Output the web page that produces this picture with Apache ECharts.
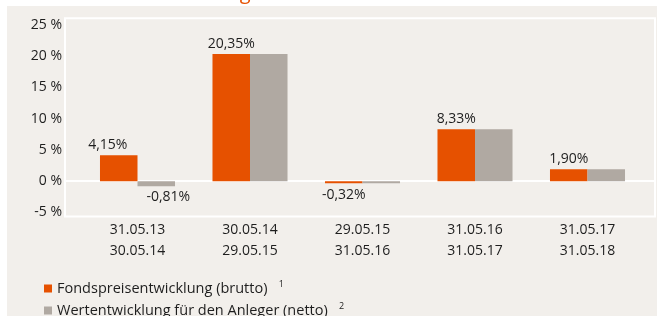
<!DOCTYPE html>
<html>
<head>
<meta charset="utf-8">
<script src="https://cdn.jsdelivr.net/npm/echarts@6/dist/echarts.min.js"></script>
<style>
  html, body { margin: 0; padding: 0; background: #fff; }
  #chart { width: 665px; height: 316px; }
</style>
</head>
<body>
<div id="chart"></div>
<script>
const periods = ["31.05.13\n30.05.14", "30.05.14\n29.05.15", "29.05.15\n31.05.16", "31.05.16\n31.05.17", "31.05.17\n31.05.18"];
const brutto = [4.15, 20.35, -0.32, 8.33, 1.90];
const netto = [-0.81, 20.35, -0.32, 8.33, 1.90];
const seriesNames = ["Fondspreisentwicklung (brutto)", "Wertentwicklung für den Anleger (netto)"];
const footnotes = ["1", "2"];
const yTicks = [-5, 0, 5, 10, 15, 20, 25];

const ORANGE = "#e65100";
const GREY = "#b0a9a2";
const INK = "#1e1e1e";
const FONT = "Open Sans";

const Y_MIN = -5.66;
const Y_MAX = 26.08;

const pct = (v) => v.toFixed(2).replace(".", ",") + "%";

const chart = echarts.init(document.getElementById("chart"), null, { renderer: "canvas" });

const option = {
  backgroundColor: "#fff",
  animation: false,
  textStyle: { fontFamily: FONT },
  title: {
    text: "Wertentwicklung",
    left: 89,
    top: -22,
    textStyle: { color: ORANGE, fontSize: 20, fontWeight: "normal", fontFamily: FONT },
  },
  graphic: [
    {
      type: "rect",
      left: 7,
      top: 6,
      z: -10,
      silent: true,
      shape: { width: 650, height: 310 },
      style: { fill: "#f2efeb" },
    },
  ],
  grid: [
    // frame with white border and zero line
    { left: 65, right: 10, top: 18.3, bottom: 99.5, show: true, borderColor: "#fff", borderWidth: 2, backgroundColor: "transparent" },
    // bars
    { left: 81.25, right: 21.25, top: 18.3, bottom: 99.5 },
  ],
  legend: {
    orient: "vertical",
    left: 39,
    top: 275,
    height: 80,
    itemWidth: 8,
    itemHeight: 8,
    itemGap: 6,
    icon: "rect",
    data: seriesNames,
    formatter: (name) => `${name}   {sup|${footnotes[seriesNames.indexOf(name)]}}`,
    textStyle: {
      color: INK,
      fontSize: 14.5,
      fontFamily: FONT,
      rich: { sup: { fontSize: 9, color: INK, padding: [0, 0, 8, 0] } },
    },
  },
  xAxis: [
    {
      gridIndex: 0,
      type: "value",
      min: 0,
      max: 1,
      axisLine: { show: true, onZero: true, lineStyle: { color: "#fff", width: 2 } },
      axisTick: { show: false },
      axisLabel: { show: false },
      splitLine: { show: false },
    },
    {
      gridIndex: 1,
      type: "category",
      data: periods,
      axisLine: { show: false },
      axisTick: { show: false },
      axisLabel: { color: INK, fontSize: 14, lineHeight: 21, margin: 3, fontFamily: FONT },
      splitLine: { show: false },
    },
  ],
  yAxis: [
    {
      gridIndex: 0,
      type: "value",
      min: Y_MIN,
      max: Y_MAX,
      axisLine: { show: false },
      axisTick: { show: false },
      splitLine: { show: false },
      axisLabel: {
        customValues: yTicks,
        color: INK,
        fontSize: 14,
        margin: 3,
        fontFamily: FONT,
        formatter: (v) => `${v} %`,
      },
    },
    {
      gridIndex: 1,
      type: "value",
      min: Y_MIN,
      max: Y_MAX,
      show: false,
      splitLine: { show: false },
    },
  ],
  series: [
    {
      name: seriesNames[0],
      type: "bar",
      xAxisIndex: 1,
      yAxisIndex: 1,
      barGap: "0%",
      barCategoryGap: "33.3%",
      itemStyle: { color: ORANGE },
      label: {
        show: true,
        position: "top",
        distance: 3,
        color: INK,
        fontSize: 14,
        fontFamily: FONT,
        formatter: (p) => pct(p.value),
      },
      data: brutto.map((v, i) => {
        if (i === 0) return { value: v, label: { offset: [-11, 0] } };
        if (v < 0) return { value: v, label: { position: "bottom", distance: 5 } };
        return v;
      }),
    },
    {
      name: seriesNames[1],
      type: "bar",
      xAxisIndex: 1,
      yAxisIndex: 1,
      barGap: "0%",
      barCategoryGap: "33.3%",
      itemStyle: { color: GREY },
      label: {
        show: false,
        color: INK,
        fontSize: 14,
        fontFamily: FONT,
        formatter: (p) => pct(p.value),
      },
      data: netto.map((v, i) =>
        i === 0 ? { value: v, label: { show: true, position: "bottom", distance: 4, offset: [12, 0] } } : v
      ),
    },
  ],
};

chart.setOption(option);
</script>
</body>
</html>
